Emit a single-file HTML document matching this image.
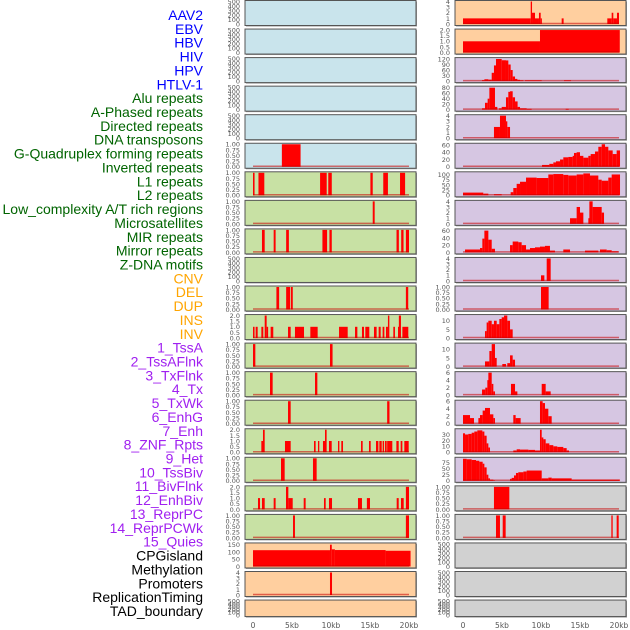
<!DOCTYPE html>
<html><head><meta charset="utf-8"><style>
body{margin:0;background:#fff;width:630px;height:630px;overflow:hidden}
svg{display:block}
</style></head><body>
<svg id="chart" width="630" height="630" viewBox="0 0 630 630" xmlns="http://www.w3.org/2000/svg"></svg>
<script>
// ---- data ----
const trackLabels = ["AAV2","EBV","HBV","HIV","HPV","HTLV-1","Alu repeats","A-Phased repeats","Directed repeats","DNA transposons","G-Quadruplex forming repeats","Inverted repeats","L1 repeats","L2 repeats","Low_complexity A/T rich regions","Microsatellites","MIR repeats","Mirror repeats","Z-DNA motifs","CNV","DEL","DUP","INS","INV","1_TssA","2_TssAFlnk","3_TxFlnk","4_Tx","5_TxWk","6_EnhG","7_Enh","8_ZNF_Rpts","9_Het","10_TssBiv","11_BivFlnk","12_EnhBiv","13_ReprPC","14_ReprPCWk","15_Quies","CPGisland","Methylation","Promoters","ReplicationTiming","TAD_boundary"];
const labelGroups = ["v","v","v","v","v","v","r","r","r","r","r","r","r","r","r","r","r","r","r","s","s","s","s","s","h","h","h","h","h","h","h","h","h","h","h","h","h","h","h","o","o","o","o","o"];
const xTickLabels = ["0","5kb","10kb","15kb","20kb"];
const xTickValues = [0,5,10,15,20];
const EMPTY = [];
const segHTLV = [[3.7,6.1,1]];
const segAlu = [[0,0.2,1],[0.7,1.45,1],[8.6,9.45,1],[9.65,10.1,1],[15.05,15.35,1],[16.7,17.3,1],[18.85,19.5,1]];
const segAPhased = [[15.35,15.6,1]];
const segDirected = [[1.15,1.5,1],[2.65,2.9,1],[4.25,4.6,1],[8.9,9.5,1],[9.8,10.1,1],[18.4,18.7,1],[19,19.3,1],[19.6,20,1]];
const segGQuad = [[3.0,3.35,1],[4.25,4.75,1],[4.85,5.1,1],[19.6,19.9,1]];
const segInverted = [[0,0.2,1],[0.34,0.6,1],[1.07,1.32,1],[1.5,1.75,2],[1.75,1.94,1],[2.26,2.6,1],[4.49,4.83,1],[5.38,6.54,1],[7.35,8.29,1],[11.03,12.14,1],[13.08,13.38,1],[13.97,14.23,1],[14.4,14.91,1],[15.51,15.85,1],[16.11,16.37,1],[16.62,16.84,1],[17.05,17.3,1],[17.3,17.48,2],[17.99,18.2,1],[18.59,18.7,1],[18.7,18.97,2],[19.15,19.91,1]];
const segL1 = [[0,0.3,1],[9.87,10.2,1]];
const segL2 = [[2.18,2.52,1],[7.95,8.25,1]];
const segLow = [[4.49,4.83,1],[17.2,17.5,1]];
const segMicro = [[1.07,1.28,1],[1.28,1.5,2],[4.1,4.83,1],[7.82,8.03,1],[8.33,8.5,1],[8.97,9.23,1],[9.23,9.44,2],[9.74,10.09,1],[10.9,11.07,1],[11.32,11.54,1],[13.85,14.06,1],[14.87,15.09,1],[15.77,16.07,1],[16.2,16.5,1],[16.62,16.8,1],[16.92,17.14,1],[17.2,17.86,1],[18.38,18.68,1],[18.93,19.15,1],[19.4,19.96,1]];
const segMIR = [[3.59,4.06,1],[7.69,8.16,1]];
const segMirror = [[0.64,0.9,1],[1.15,1.5,1],[2.65,2.9,1],[4.23,4.53,2],[4.53,5.09,1],[6.5,6.75,1],[9.1,9.32,1],[9.74,10.13,1],[13.46,13.97,1],[14.6,15,1],[18.42,18.68,1],[18.97,19.32,1],[19.6,20,2]];
const segZDNA = [[5.13,5.38,1],[19.6,20,1]];
const segCNV = [[0,9.87,112],[9.87,10.1,150],[10.1,10.5,118],[10.5,17.0,113],[17.0,20.2,108]];
const segDEL = [[9.87,10.13,4]];
const segINS = [[0,8.68,1],[8.68,8.85,4],[8.85,9.23,2],[9.23,9.74,1],[9.74,9.96,2],[9.96,10.1,1],[12.65,12.9,1],[18.5,19.06,1],[19.06,19.27,2],[19.27,19.74,1],[19.74,20,2]];
const segINV = [[0,9.87,1],[9.87,20.1,2]];
const segTssA = [[2.44,2.74,5],[2.74,3.25,10],[3.25,3.68,8],[3.68,3.97,45],[3.97,4.23,85],[4.23,4.96,120],[4.96,5.51,113],[5.51,5.81,112],[5.81,6.11,90],[6.11,6.37,60],[6.37,6.67,25],[6.67,6.97,12],[6.97,7.31,7],[7.31,7.74,4],[7.95,10.09,4],[12.95,13.85,4]];
const segTssAFlnk = [[2.44,2.82,5],[2.82,3.16,25],[3.16,3.38,40],[3.38,4.1,80],[4.1,4.4,10],[4.62,4.96,5],[4.96,5.51,10],[5.51,5.81,45],[5.81,6.03,65],[6.03,6.37,67],[6.37,6.67,45],[6.67,7.0,30],[7.0,7.31,10],[7.31,8.16,5],[8.16,8.8,3],[13.16,13.55,3]];
const segTxFlnk = [[3.97,4.74,2],[4.74,5.51,4],[5.51,5.68,3],[5.68,6.03,2]];
const segTx = [[10.13,11.07,5],[11.07,11.58,8],[11.58,11.92,12],[11.92,12.44,15],[12.44,12.86,20],[12.86,13.5,26],[13.5,14.06,27],[14.06,14.23,30],[14.23,14.57,38],[14.57,15.0,40],[15.0,15.43,30],[15.43,16.07,25],[16.07,16.37,30],[16.37,16.92,35],[16.92,17.35,42],[17.35,17.78,55],[17.78,18.21,62],[18.21,18.63,55],[18.63,19.19,45],[19.19,19.7,35],[19.7,20.13,45]];
const segTxWk = [[0,2.6,13],[2.6,3.25,8],[3.97,4.96,5],[6.11,6.45,15],[6.45,6.88,35],[6.88,7.31,55],[7.31,8.08,65],[8.08,9.44,85],[9.44,10.94,83],[10.94,11.58,100],[11.58,12.86,102],[12.86,13.5,98],[13.5,14.57,95],[14.57,15.43,100],[15.43,16.28,105],[16.28,17.35,95],[17.35,17.78,75],[17.78,18.63,70],[18.63,19.06,85],[19.06,20.13,100]];
const segEnhG = [[13.72,14.57,1],[14.57,15.0,3],[15.0,15.43,2],[16.07,16.2,1],[16.2,16.62,4],[16.62,17.78,3],[17.78,18.08,2]];
const segEnh = [[0.26,2.18,8],[2.18,2.48,12],[2.48,2.74,38],[2.74,3.25,60],[3.25,3.68,35],[3.68,4.1,10],[6.03,6.37,20],[6.37,7.09,30],[7.09,7.52,28],[7.52,8.08,20],[8.08,8.59,8],[8.59,9.23,12],[9.23,9.87,14],[9.87,10.51,16],[10.51,11.15,18],[11.15,11.79,5],[12.86,13.72,8],[15.64,17.35,5],[17.56,18.42,8],[18.42,19.06,6],[19.06,19.91,3]];
const segZNF = [[10.0,10.43,1],[10.73,11.24,4]];
const segHet = [[10.0,10.98,1]];
const segTssBiv = [[2.82,3.03,4],[3.03,3.25,9],[3.25,3.68,10],[3.68,3.97,8],[3.97,4.32,10],[4.32,4.66,8],[4.66,4.96,11],[4.96,5.26,12],[5.26,5.68,13],[5.68,6.03,10],[6.03,6.37,5]];
const segBivFlnk = [[2.82,3.38,3],[3.38,3.68,9],[3.68,4.1,13],[4.1,4.32,5],[5.04,5.51,1.5],[5.68,6.03,2],[6.03,6.37,6.5],[6.37,6.67,4]];
const segEnhBiv = [[2.44,2.86,1.5],[2.86,3.12,2],[3.12,3.25,4],[3.25,3.68,6],[3.68,3.89,3],[3.89,4.1,1],[6.15,6.67,3],[6.67,6.97,1],[10.09,10.6,3],[10.6,11.24,1]];
const segReprPC = [[0,0.9,2.3],[0.9,1.41,1.5],[1.97,2.18,1.5],[2.18,2.52,2.3],[2.52,2.82,3.5],[2.82,3.46,4.2],[3.46,3.89,2.5],[3.89,4.1,1.5],[6.45,6.75,2.3],[6.75,7.39,1.5],[9.87,10.21,6],[10.21,10.51,5.5],[10.51,10.94,4],[10.94,11.37,2]];
const segReprPCWk = [[0,0.26,32],[0.26,0.68,30],[0.68,1.11,31],[1.11,1.45,33],[1.45,1.84,35],[1.84,2.48,37],[2.48,2.74,35],[2.74,3.03,28],[3.03,3.25,15],[3.25,3.46,8],[6.45,6.88,3],[6.88,7.31,5],[7.31,8.38,4.5],[8.38,9.23,4],[9.23,9.87,3],[9.87,10.09,38],[10.09,10.3,25],[10.3,10.6,22],[10.6,11.07,15],[11.07,11.58,12],[11.58,12.09,10],[12.09,12.86,9],[12.86,13.29,7],[13.29,13.59,3]];
const segQuies = [[0,0.47,90],[0.47,1.11,88],[1.11,1.67,85],[1.67,2.09,82],[2.09,2.52,78],[2.52,2.74,70],[2.74,3.03,55],[3.03,3.25,25],[3.25,3.46,10],[3.46,3.89,5],[3.89,4.1,2],[6.03,6.24,8],[6.24,6.54,12],[6.54,6.79,22],[6.79,7.09,32],[7.09,7.74,35],[7.74,8.16,38],[8.16,10.09,42],[10.09,10.94,10],[10.94,11.37,13],[11.37,13.93,10],[13.93,20.13,5]];
const segCPG = [[3.97,5.94,1]];
const segMeth = [[4.23,4.74,1],[5.09,5.47,1],[19.02,19.19,1],[19.7,19.96,1]];

const ticksEmpty = ["0","100","200","300","400","500"];
const ticks1 = ["0.00","0.25","0.50","0.75","1.00"];
const ticks2 = ["0.0","0.5","1.0","1.5","2.0"];
const ticks4 = ["0","1","2","3","4"];

// panel definitions: [column, row, background key, segments, ymax, ticks]
const leftPanels = [
 ["lb",EMPTY,500,ticksEmpty],["lb",EMPTY,500,ticksEmpty],["lb",EMPTY,500,ticksEmpty],["lb",EMPTY,500,ticksEmpty],["lb",EMPTY,500,ticksEmpty],
 ["lb",segHTLV,1,ticks1],
 ["gr",segAlu,1,ticks1],["gr",segAPhased,1,ticks1],["gr",segDirected,1,ticks1],["gr",EMPTY,500,ticksEmpty],
 ["gr",segGQuad,1,ticks1],["gr",segInverted,2,ticks2],["gr",segL1,1,ticks1],["gr",segL2,1,ticks1],["gr",segLow,1,ticks1],
 ["gr",segMicro,2,ticks2],["gr",segMIR,1,ticks1],["gr",segMirror,2,ticks2],["gr",segZDNA,1,ticks1],
 ["or",segCNV,155,["0","50","100","150"]],["or",segDEL,4,ticks4],["or",EMPTY,500,ticksEmpty]
];
const rightPanels = [
 ["or",segINS,4,ticks4],["or",segINV,2,ticks2],
 ["pu",segTssA,122,["0","30","60","90","120"]],["pu",segTssAFlnk,82,["0","20","40","60","80"]],["pu",segTxFlnk,4,ticks4],
 ["pu",segTx,62,["0","20","40","60"]],["pu",segTxWk,108,["0","25","50","75","100"]],["pu",segEnhG,4,ticks4],
 ["pu",segEnh,62,["0","20","40","60"]],["pu",segZNF,4,ticks4],["pu",segHet,1,ticks1],
 ["pu",segTssBiv,13,["0","5","10"]],["pu",segBivFlnk,13,["0","5","10"]],["pu",segEnhBiv,6,["0","2","4","6"]],
 ["pu",segReprPC,6,["0","2","4","6"]],["pu",segReprPCWk,38,["0","10","20","30"]],["pu",segQuies,92,["0","25","50","75"]],
 ["gy",segCPG,1,ticks1],["gy",segMeth,1,ticks1],["gy",EMPTY,500,ticksEmpty],["gy",EMPTY,500,ticksEmpty],["gy",EMPTY,500,ticksEmpty]
];

// ---- drawing ----
const NS = "http://www.w3.org/2000/svg";
const svg = document.getElementById("chart");
const BG = {lb:"#c9e4ec",gr:"#c8e1a4",or:"#ffcf9f",pu:"#d6c6e2",gy:"#d1d1d1"};
const LC = {v:"#0000ff",r:"#006400",s:"#ffa500",h:"#a020f0",o:"#000000"};
function mk(tag, attrs, parent){const e=document.createElementNS(NS,tag);for(const k in attrs)e.setAttribute(k,attrs[k]);(parent||svg).appendChild(e);return e;}

// labels
trackLabels.forEach((t,i)=>{
  const el = mk("text",{x:203,y:20+i*13.86,"text-anchor":"end","font-family":"Liberation Sans, sans-serif","font-size":"14",fill:LC[labelGroups[i]]});
  el.textContent = t;
  
  
});

function xScale(kb, x0){ return x0 + 8 + kb*7.8; }

function drawColumn(panels, px, colName){
  panels.forEach((p,i)=>{
    const [bgk, segs, ymax, ticks] = p;
    const top = 0.5 + i*28.55;
    const h = (i===21) ? 16.5 : 25;
    const g = mk("g",{});
    
    
    mk("rect",{x:px+1,y:top+1,width:171,height:h,fill:"#9a9a9a"},g);
    mk("rect",{x:px,y:top,width:171,height:h,fill:BG[bgk],stroke:"#555","stroke-width":1},g);
    const y0 = top + h - 1.5, y1 = top + 1;
    const yS = v => y0 - (v/ymax)*(y0-y1);
    // ticks
    const isEmpty = segs.length===0;
    ticks.forEach((t,k)=>{
      const v = isEmpty ? k*100 : parseFloat(t);
      const ty = isEmpty ? y0 - (k/(ticks.length-1))*(y0-y1) : yS(v);
      const tx = mk("text",{x:px-5,y:ty+2.4,"text-anchor":"end","font-family":"DejaVu Sans, sans-serif","font-size":"6.5",fill:"#555"},g);
      tx.textContent = t;
      
      
    });
    if(!isEmpty){
      segs.forEach(s=>{
        const xa = xScale(s[0],px), xb = xScale(s[1],px);
        const r = mk("rect",{x:xa,y:yS(s[2]),width:Math.max(1.2,xb-xa),height:y0-yS(s[2]),fill:"#ff0000"},g);
        
        
      });
      const bl = mk("line",{x1:xScale(0,px),x2:xScale(20,px),y1:y0-0.5,y2:y0-0.5,stroke:"rgba(200,0,0,0.55)","stroke-width":1.5},g);
      
      
    }
  });
  xTickValues.forEach((v,k)=>{
    const t = mk("text",{x:xScale(v,px),y:628,"text-anchor":"middle","font-family":"DejaVu Sans, sans-serif","font-size":"7.5",fill:"#555"});
    t.textContent = xTickLabels[k];
    
    
  });
}
drawColumn(leftPanels, 245, "left");
drawColumn(rightPanels, 455, "right");
</script>
</body></html>
